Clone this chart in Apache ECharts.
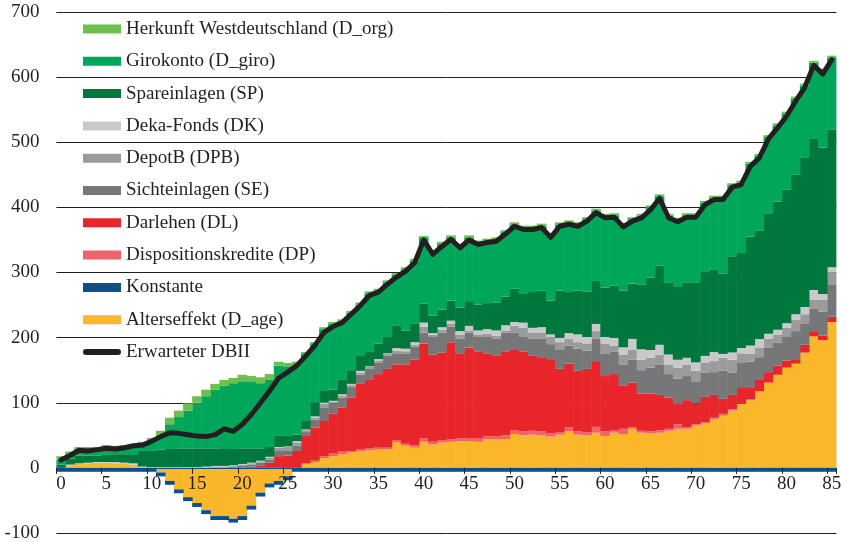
<!DOCTYPE html>
<html>
<head>
<meta charset="utf-8">
<script src="https://cdn.jsdelivr.net/npm/echarts@6/dist/echarts.min.js"></script>
<style>
  html, body { margin: 0; padding: 0; background: #ffffff; }
  #chart { width: 847px; height: 542px; }
</style>
</head>
<body>
<div id="chart"></div>
<script>
// Age 0..85
const ages = Array.from({ length: 86 }, (_, i) => String(i));

// Contributions per age (stacked components)
const dAge = [0,4,6,7,8,8,7,6,5,1,0,
  -7,-20,-33,-45,-54,-65,-74,-74,-78,-74,-58,-38,-24,-20,-13,
  0,6,9,15,18,21,24,26,27,28,29,39,34,31,40,36,39,40,41,41,
  40,44,44,44,52,50,51,50,48,51,56,51,50,54,49,54,52,60,54,53,
  54,57,60,60,65,68,75,80,88,98,104,117,131,143,154,160,177,202,196,224];

const konstante = [-6,-6,-6,-6,-6,-6,-6,-6,-6,-6,-6,-6,-6,-6,-6,-6,-6,-6,-6,-6,
  -6,-6,-6,-6,-6,-6,-6,-6,-6,-6,-6,-6,-6,-6,-6,-6,-6,-6,-6,-6,
  -6,-6,-6,-6,-6,-6,-6,-6,-6,-6,-6,-6,-6,-6,-6,-6,-6,-6,-6,-6,
  -6,-6,-6,-6,-6,-6,-6,-6,-6,-6,-6,-6,-6,-6,-6,-6,-6,-6,-6,-6,
  -6,-6,-6,-6,-6,-6];

const dp = [0,0,0,0,0,0,0,0,0,0,0,0,0,0,0,0,0,0,0,0,0,0,0,0,0,0,0,
  1,2,3,4,4,2,3,3,3,2,3,3,4,5,4,3,4,4,5,6,5,5,6,6,6,6,6,5,4,6,5,5,9,7,4,8,2,3,3,4,3,7,2,2,2,2,3,2,1,1,1,0,0,0,0,0,0,0,0];

const dl = [0,0,0,0,0,0,0,0,0,0,0,0,0,0,0,0,0,0,0,0,1,
  2,4,8,18,19,26,42,51,54,61,68,82,100,105,113,121,117,122,131,146,
  134,135,149,131,139,133,127,123,129,123,123,115,114,114,97,98,93,97,101,85,
  86,66,69,57,58,54,48,31,42,32,39,35,23,22,25,19,17,16,14,11,7,12,8,7,8];

const se = [0,0,0,0,0,0,0,0,0,0,0,0,0,0,0,0,0,
  1,1,2,2,3,4,5,8,7,8,6,12,21,16,15,16,14,17,18,20,17,16,20,17,
  27,31,24,22,23,21,25,26,29,27,22,26,28,23,29,28,34,28,34,34,
  34,33,35,36,40,47,36,39,37,34,37,35,43,34,37,39,35,38,35,35,43,33,35,37,50];

const dpb = [0,0,0,0,0,0,0,0,0,0,0,0,0,0,0,0,
  1,1,1,1,2,2,2,3,5,6,5,3,3,5,2,3,3,3,3,3,3,4,4,3,9,
  3,4,4,6,3,5,5,5,3,10,14,10,10,10,12,10,10,11,12,16,
  10,15,16,16,15,15,15,17,17,16,16,17,20,20,15,12,15,13,12,15,17,14,13,18,18];

const dk = [0,1,1,1,1,1,2,2,2,1,1,1,1,1,1,1,1,1,1,1,1,1,1,1,1,1,
  2,1,2,2,2,2,2,3,1,2,1,4,4,4,6,3,4,5,6,7,6,7,8,8,6,8,7,8,5,7,
  9,12,10,11,10,12,11,16,16,12,15,15,12,11,13,10,14,6,11,8,13,13,8,8,7,9,11,15,9,8];

const sp = [5,9,12,11,10,11,12,13,14,24,25,27,28,29,29,29,28,27,26,25,24,
  22,19,15,17,16,10,13,22,18,17,22,21,24,22,24,24,35,28,28,29,
  27,27,31,36,38,40,40,43,44,51,44,55,56,52,72,63,67,70,66,76,
  80,87,85,99,111,122,110,113,116,123,128,126,123,148,146,167,166,185,197,205,214,230,233,225,211];

const giro = [7,7,10,10,10,12,10,11,13,11,16,22,38,48,58,70,80,90,97,101,103,
  103,100,103,108,107,108,103,89,95,101,90,88,78,90,81,85,77,94,97,101,
  97,101,97,95,98,95,96,97,99,99,102,99,100,100,102,107,102,111,108,110,
  108,101,99,106,108,106,103,102,103,103,107,111,117,109,108,112,115,117,117,117,117,110,116,118,111];

const dOrg = [6,4,3,3,3,3,3,3,3,3,4,7,10,10,11,10,10,9,9,8,10,8,9,9,6,5,4,
  3,3,3,3,3,3,3,3,3,3,3,3,3,3,3,3,3,3,3,3,3,3,3,3,3,3,3,3,3,3,3,3,3,
  3,3,3,3,3,3,3,3,3,3,3,3,3,3,3,3,3,3,3,3,3,3,3,3,3,3];

// Expected total (line)
const dbii = [12,19,27,26,28,30,29,31,34,35,41,48,54,53,51,49,48,51,60,56,67,
  82,100,118,138,147,157,172,188,208,217,223,236,249,265,270,282,293,302,315,350,
  328,340,351,338,350,343,346,348,359,371,366,366,369,354,371,374,371,379,392,384,
  385,370,379,384,396,414,384,378,385,385,404,412,412,431,435,463,476,505,522,540,563,584,618,605,627];

const yTicks = [-100, 0, 100, 200, 300, 400, 500, 600, 700];

const FONT = "'Liberation Serif', 'Times New Roman', serif";
const INK = '#231f20';

// Plot box in pixels; the category axis is pulled up to the zero line
const GRID = { left: 56.4, right: 10.6, top: 12, bottom: 9 };
const plotH = 542 - GRID.top - GRID.bottom;
const yMin = yTicks[0], yMax = yTicks[yTicks.length - 1];
const zeroOffset = -plotH * (0 - yMin) / (yMax - yMin);

const barDefs = [
  { name: 'Alterseffekt (D_age)', data: dAge, color: '#fbb72b' },
  { name: 'Konstante', data: konstante, color: '#0b4f8d' },
  { name: 'Dispositionskredite (DP)', data: dp, color: '#f0636b' },
  { name: 'Darlehen (DL)', data: dl, color: '#e8252a' },
  { name: 'Sichteinlagen (SE)', data: se, color: '#77777a' },
  { name: 'DepotB (DPB)', data: dpb, color: '#9b9b9e' },
  { name: 'Deka-Fonds (DK)', data: dk, color: '#c9c9cb' },
  { name: 'Spareinlagen (SP)', data: sp, color: '#00773d' },
  { name: 'Girokonto (D_giro)', data: giro, color: '#00a65a' },
  { name: 'Herkunft Westdeutschland (D_org)', data: dOrg, color: '#6dbf4e' }
];

const series = barDefs.map(d => ({
  name: d.name,
  type: 'bar',
  stack: 'total',
  data: d.data,
  barWidth: '106%',
  itemStyle: { color: d.color },
  emphasis: { disabled: true },
  animation: false
}));

series.push({
  name: 'Erwarteter DBII',
  type: 'line',
  data: dbii,
  symbol: 'none',
  smooth: false,
  z: 5,
  lineStyle: { color: INK, width: 5, cap: 'round', join: 'round' },
  itemStyle: { color: INK },
  animation: false
});

const legendOrder = [
  'Herkunft Westdeutschland (D_org)', 'Girokonto (D_giro)', 'Spareinlagen (SP)',
  'Deka-Fonds (DK)', 'DepotB (DPB)', 'Sichteinlagen (SE)', 'Darlehen (DL)',
  'Dispositionskredite (DP)', 'Konstante', 'Alterseffekt (D_age)'
].map(n => ({ name: n, icon: 'rect' }));
// thick rounded stroke for the line entry
legendOrder.push({
  name: 'Erwarteter DBII',
  icon: 'path://M3,0 L36,0 A3,3 0 0 1 36,6 L3,6 A3,3 0 0 1 3,0 Z',
  itemStyle: { color: INK }
});

const chart = echarts.init(document.getElementById('chart'), null, { renderer: 'canvas' });
chart.setOption({
  animation: false,
  backgroundColor: '#ffffff',
  grid: Object.assign({ containLabel: false, outerBoundsMode: 'none' }, GRID),
  legend: {
    orient: 'vertical',
    left: 83,
    top: 19,
    padding: 0,
    itemWidth: 38,
    itemHeight: 9,
    itemGap: 12.3,
    selectedMode: false,
    symbolKeepAspect: true,
    data: legendOrder,
    textStyle: { fontFamily: FONT, fontSize: 19, color: INK, lineHeight: 20 }
  },
  xAxis: {
    type: 'category',
    data: ages,
    z: 3,
    position: 'bottom',
    offset: zeroOffset,
    axisLine: { show: true, onZero: false, lineStyle: { color: '#0b4f8d', width: 1 } },
    axisTick: { show: true, interval: 4, length: 6, lineStyle: { color: INK, width: 1 } },
    axisLabel: { interval: 4, margin: 7, fontFamily: FONT, fontSize: 19, color: INK },
    splitLine: { show: false }
  },
  yAxis: {
    type: 'value',
    min: yMin,
    max: yMax,
    interval: 100,
    axisLine: { show: false },
    axisTick: { show: false },
    axisLabel: { margin: 17, fontFamily: FONT, fontSize: 19, color: INK },
    splitLine: { lineStyle: { color: INK, width: 1 } }
  },
  series: series
});
</script>
</body>
</html>
